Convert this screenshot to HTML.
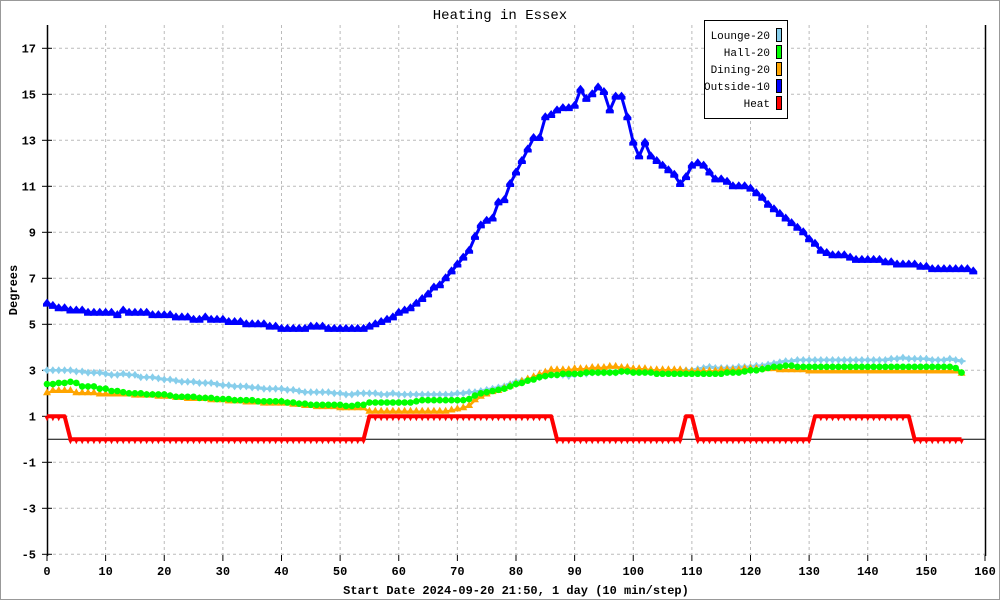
<!DOCTYPE html>
<html><head><meta charset="utf-8"><style>
html,body{margin:0;padding:0;background:#fff}
svg{display:block}
text{font-family:"Liberation Mono",monospace}
</style></head><body>
<svg id="chart" width="1000" height="600" viewBox="0 0 1000 600">
<rect x="0.5" y="0.5" width="999" height="599" fill="#fff" stroke="#999"/>
<text x="500" y="19" text-anchor="middle" font-size="14">Heating in Essex</text>
<text transform="translate(17,290) rotate(-90)" text-anchor="middle" font-size="12" font-weight="bold">Degrees</text>
<text x="516" y="594" text-anchor="middle" font-size="12" font-weight="bold">Start Date 2024-09-20 21:50, 1 day (10 min/step)</text>
<g id="grid"></g>
<g id="axes"></g>
<g id="series"></g>
<g>
<rect x="704.5" y="20.5" width="83" height="98" fill="#fff" stroke="#000"/>
<text x="770" y="39" text-anchor="end" font-size="11">Lounge-20</text>
<rect x="776.5" y="28.5" width="5" height="13" fill="#87ceeb" stroke="#000"/>
<text x="770" y="56" text-anchor="end" font-size="11">Hall-20</text>
<rect x="776.5" y="45.5" width="5" height="13" fill="#00ff00" stroke="#000"/>
<text x="770" y="73" text-anchor="end" font-size="11">Dining-20</text>
<rect x="776.5" y="62.5" width="5" height="13" fill="#ffa500" stroke="#000"/>
<text x="770" y="90" text-anchor="end" font-size="11">Outside-10</text>
<rect x="776.5" y="79.5" width="5" height="13" fill="#0000ff" stroke="#000"/>
<text x="770" y="107" text-anchor="end" font-size="11">Heat</text>
<rect x="776.5" y="96.5" width="5" height="13" fill="#ff0000" stroke="#000"/>
</g>
</svg>
<script>
const xTicks=[0,10,20,30,40,50,60,70,80,90,100,110,120,130,140,150,160];
const yTicks=[-5,-3,-1,1,3,5,7,9,11,13,15,17];
const lounge=[3.0,3.0,3.0,3.0,3.0,2.95,2.95,2.9,2.9,2.9,2.85,2.8,2.8,2.85,2.8,2.8,2.7,2.7,2.7,2.65,2.6,2.6,2.55,2.5,2.5,2.5,2.45,2.45,2.45,2.4,2.35,2.35,2.3,2.3,2.3,2.25,2.25,2.2,2.2,2.2,2.2,2.15,2.15,2.1,2.05,2.05,2.05,2.05,2.05,2.0,2.0,1.95,1.95,2.0,2.0,2.0,2.0,1.95,1.95,2.0,1.95,1.95,1.95,1.95,1.95,1.95,1.95,1.95,1.95,1.95,2.0,2.0,2.05,2.05,2.1,2.15,2.2,2.25,2.3,2.4,2.5,2.55,2.6,2.65,2.7,2.75,2.8,2.8,2.8,2.75,2.8,2.85,2.85,2.9,2.9,2.9,2.9,2.9,2.95,2.95,2.95,2.95,2.95,3.0,3.0,3.0,3.0,3.0,3.0,3.0,3.0,3.05,3.1,3.15,3.1,3.1,3.1,3.1,3.15,3.15,3.15,3.2,3.2,3.25,3.3,3.35,3.4,3.4,3.45,3.45,3.45,3.45,3.45,3.45,3.45,3.45,3.45,3.45,3.45,3.45,3.45,3.45,3.45,3.45,3.5,3.5,3.55,3.5,3.5,3.5,3.5,3.45,3.45,3.45,3.5,3.45,3.4];
const hall=[2.4,2.4,2.45,2.45,2.5,2.45,2.3,2.3,2.3,2.2,2.2,2.1,2.1,2.05,2.0,2.0,2.0,1.95,1.95,1.95,1.95,1.9,1.85,1.85,1.85,1.85,1.8,1.8,1.8,1.75,1.75,1.75,1.7,1.7,1.7,1.7,1.65,1.65,1.65,1.65,1.65,1.6,1.6,1.55,1.55,1.5,1.5,1.5,1.5,1.5,1.5,1.45,1.45,1.5,1.5,1.6,1.6,1.6,1.6,1.6,1.6,1.6,1.6,1.65,1.7,1.7,1.7,1.7,1.7,1.7,1.7,1.7,1.75,1.9,2.0,2.05,2.1,2.15,2.2,2.3,2.4,2.45,2.55,2.6,2.7,2.75,2.8,2.8,2.85,2.85,2.85,2.85,2.9,2.9,2.9,2.9,2.9,2.9,2.95,2.95,2.9,2.9,2.9,2.9,2.85,2.85,2.85,2.85,2.85,2.85,2.85,2.85,2.85,2.85,2.85,2.85,2.9,2.9,2.9,2.95,3.0,3.0,3.05,3.1,3.15,3.15,3.2,3.2,3.15,3.15,3.15,3.15,3.15,3.15,3.15,3.15,3.15,3.15,3.15,3.15,3.15,3.15,3.15,3.15,3.15,3.15,3.15,3.15,3.15,3.15,3.15,3.15,3.15,3.15,3.15,3.1,2.9];
const dining=[2.0,2.1,2.1,2.1,2.1,2.0,2.0,2.0,2.0,1.95,1.95,1.95,1.95,1.95,1.95,1.9,1.9,1.9,1.9,1.85,1.85,1.85,1.8,1.8,1.75,1.75,1.75,1.75,1.7,1.7,1.7,1.65,1.65,1.65,1.6,1.6,1.6,1.55,1.55,1.55,1.55,1.55,1.5,1.5,1.45,1.45,1.4,1.4,1.4,1.4,1.35,1.35,1.35,1.35,1.35,1.2,1.2,1.2,1.2,1.2,1.2,1.2,1.2,1.2,1.2,1.2,1.2,1.2,1.2,1.25,1.3,1.35,1.45,1.7,1.85,1.95,2.05,2.1,2.2,2.3,2.4,2.5,2.6,2.7,2.8,2.9,3.0,3.0,3.0,3.0,3.05,3.05,3.05,3.1,3.1,3.1,3.15,3.15,3.1,3.1,3.05,3.05,3.05,3.0,3.0,3.0,3.0,3.0,3.0,2.95,2.95,2.95,2.95,2.95,2.95,3.0,3.0,3.0,3.0,3.05,3.05,3.05,3.05,3.05,3.05,3.0,3.0,3.0,3.0,3.0,2.95,2.95,2.95,2.95,2.95,2.95,2.95,2.95,2.95,2.95,2.95,2.95,2.95,2.95,2.95,2.95,2.95,2.95,2.95,2.95,2.95,2.95,2.95,2.95,2.95,2.95,2.85];
const outside=[5.9,5.8,5.7,5.7,5.6,5.6,5.6,5.5,5.5,5.5,5.5,5.5,5.4,5.6,5.5,5.5,5.5,5.5,5.4,5.4,5.4,5.4,5.3,5.3,5.3,5.2,5.2,5.3,5.2,5.2,5.2,5.1,5.1,5.1,5.0,5.0,5.0,5.0,4.9,4.9,4.8,4.8,4.8,4.8,4.8,4.9,4.9,4.9,4.8,4.8,4.8,4.8,4.8,4.8,4.8,4.9,5.0,5.1,5.2,5.3,5.5,5.6,5.7,5.9,6.1,6.3,6.6,6.7,7.0,7.3,7.6,7.9,8.2,8.8,9.3,9.5,9.6,10.3,10.4,11.1,11.6,12.1,12.6,13.1,13.1,14.0,14.1,14.3,14.4,14.4,14.5,15.2,14.8,15.0,15.3,15.1,14.3,14.9,14.9,14.0,12.9,12.3,12.9,12.3,12.1,11.9,11.7,11.5,11.1,11.4,11.9,12.0,11.9,11.6,11.3,11.3,11.2,11.0,11.0,11.0,10.9,10.7,10.5,10.2,10.0,9.8,9.6,9.4,9.2,9.0,8.7,8.5,8.2,8.1,8.0,8.0,8.0,7.9,7.8,7.8,7.8,7.8,7.8,7.7,7.7,7.6,7.6,7.6,7.6,7.5,7.5,7.4,7.4,7.4,7.4,7.4,7.4,7.4,7.3];
const heat=[1,1,1,1,0,0,0,0,0,0,0,0,0,0,0,0,0,0,0,0,0,0,0,0,0,0,0,0,0,0,0,0,0,0,0,0,0,0,0,0,0,0,0,0,0,0,0,0,0,0,0,0,0,0,0,1,1,1,1,1,1,1,1,1,1,1,1,1,1,1,1,1,1,1,1,1,1,1,1,1,1,1,1,1,1,1,1,0,0,0,0,0,0,0,0,0,0,0,0,0,0,0,0,0,0,0,0,0,0,1,1,0,0,0,0,0,0,0,0,0,0,0,0,0,0,0,0,0,0,0,0,1,1,1,1,1,1,1,1,1,1,1,1,1,1,1,1,1,0,0,0,0,0,0,0,0,0];

const NS='http://www.w3.org/2000/svg';
function X(i){return 47+i*(938/160);}
function Y(v){return 439.3-v*23;}
function mk(tag,attrs,parent){const e=document.createElementNS(NS,tag);for(const k in attrs)e.setAttribute(k,attrs[k]);parent.appendChild(e);return e;}
const grid=document.getElementById('grid'),axes=document.getElementById('axes'),ser=document.getElementById('series');

xTicks.forEach(t=>{
  if(t>0&&t<160){const g=mk('line',{x1:X(t),x2:X(t),y1:25,y2:555,stroke:'#bbb','stroke-dasharray':'3,3'},grid);
  
  }
  const tk=mk('line',{x1:X(t),x2:X(t),y1:555,y2:561,stroke:'#000'},axes);
  
  
  const lb=mk('text',{x:X(t),y:575,'text-anchor':'middle','font-size':'12','font-weight':'bold'},axes);
  lb.textContent=t;
  
  
});
yTicks.forEach(t=>{
  const g=mk('line',{x1:47,x2:985,y1:Y(t),y2:Y(t),stroke:'#bbb','stroke-dasharray':'3,3'},grid);
  
  
  const tk=mk('line',{x1:42,x2:52,y1:Y(t),y2:Y(t),stroke:'#000'},axes);
  
  
  const lb=mk('text',{x:36,y:Y(t)+4,'text-anchor':'end','font-size':'12','font-weight':'bold'},axes);
  lb.textContent=t;
  
  
});
const ya=mk('line',{x1:47.5,x2:47.5,y1:25,y2:556,stroke:'#000','stroke-width':1.5},axes);


const ra=mk('line',{x1:985.5,x2:985.5,y1:25,y2:556,stroke:'#000','stroke-width':1.5},axes);


const zl=mk('line',{x1:47,x2:985,y1:Y(0),y2:Y(0),stroke:'#000'},axes);



function marker(kind,x,y,color,g){
  let e;
  if(kind==='circle')e=mk('circle',{cx:x,cy:y,r:3.3,fill:color},g);
  else if(kind==='diamond')e=mk('path',{d:`M${x} ${y-4}L${x+3} ${y}L${x} ${y+4}L${x-3} ${y}Z M${x-4} ${y-1}h8v2h-8z`,fill:color},g);
  else if(kind==='tri')e=mk('path',{d:`M${x} ${y-5}L${x+4} ${y+2}L${x-4} ${y+2}Z`,fill:color},g);
  else if(kind==='sq')e=mk('path',{d:`M${x} ${y-5}L${x+4} ${y}L${x+4} ${y+3}L${x-4} ${y+3}L${x-4} ${y}Z`,fill:color},g);
  else e=mk('path',{d:`M${x-2.5} ${y}L${x+2.5} ${y}L${x} ${y+5}Z`,fill:color},g);
  return e;
}
function drawSeries(arr,color,kind,name,width){
  const g=mk('g',{},ser);
  
  
  const pts=arr.map((v,i)=>X(i).toFixed(1)+','+Y(v).toFixed(1)).join(' ');
  const l=mk('polyline',{points:pts,fill:'none',stroke:color,'stroke-width':width,'stroke-linejoin':'round'},g);
  
  
  arr.forEach((v,i)=>{
    const m=marker(kind,X(i),Y(v),color,g);
    
    
  });
}
drawSeries(lounge,'#87ceeb','diamond','lounge',2.5);
drawSeries(dining,'#ffa500','tri','dining',2.5);
drawSeries(hall,'#00ff00','circle','hall',2.5);
drawSeries(outside,'#0000ff','sq','outside',3);
drawSeries(heat,'#ff0000','inv','heat',4);
</script>
</body></html>
